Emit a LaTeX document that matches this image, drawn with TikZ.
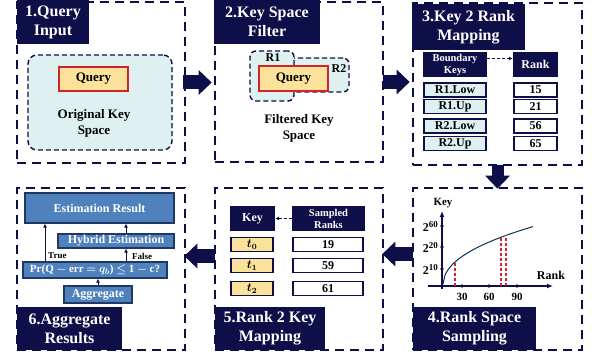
\documentclass[tikz,border=0pt]{standalone}
\usepackage{fontspec}
\setmainfont{Liberation Serif}
\usepackage{amsmath}
\usepackage{bm}
\usetikzlibrary{arrows.meta}

\definecolor{navy}{RGB}{14,14,72}
\definecolor{lcyan}{RGB}{222,240,240}
\definecolor{qyellow}{RGB}{251,226,155}
\definecolor{qred}{RGB}{210,35,40}
\definecolor{steel}{RGB}{79,129,189}
\definecolor{steeldark}{RGB}{31,56,100}

\newcommand{\powlbl}[1]{2\raisebox{4pt}{\fontsize{9}{9}\selectfont #1}}

\tikzset{
  panel/.style={draw=navy, line width=2.6pt, dash pattern=on 9pt off 6pt},
  titlebox/.style={fill=navy, text=white, align=center, inner sep=0pt,
    font=\bfseries\fontsize{16}{19}\selectfont},
  region/.style={draw=navy, fill=lcyan, line width=1.4pt, dash pattern=on 5pt off 3pt},
  qbox/.style={draw=qred, fill=qyellow, line width=1.3pt, inner sep=0pt,
    font=\bfseries\fontsize{13}{15}\selectfont},
  lbl/.style={align=center, inner sep=0pt, font=\bfseries\fontsize{13}{16}\selectfont},
  hdr/.style={fill=navy, text=white, align=center, inner sep=0pt,
    font=\bfseries\fontsize{12}{13}\selectfont},
  keycell/.style={draw=navy, fill=lcyan, line width=1.2pt, inner sep=0pt,
    font=\bfseries\fontsize{12}{13}\selectfont},
  rankcell/.style={draw=navy, fill=white, line width=1.2pt, inner sep=0pt,
    font=\bfseries\fontsize{12}{13}\selectfont},
  tcell/.style={draw=navy, fill=qyellow, line width=1.2pt, inner sep=0pt,
    font=\bfseries\fontsize{12}{13}\selectfont},
  bluebox/.style={draw=steeldark, fill=steel, text=white, line width=1.2pt, inner sep=0pt,
    font=\bfseries\fontsize{12}{13}\selectfont},
  smalllbl/.style={inner sep=0pt, font=\bfseries\fontsize{9}{10}\selectfont},
  ticklbl/.style={inner sep=0pt, font=\bfseries\fontsize{11}{12}\selectfont},
  dasharrow/.style={navy, line width=1pt, dash pattern=on 3pt off 2pt, -{Latex[length=4pt,width=4pt]}},
  smallarrow/.style={navy, line width=1pt, -{Latex[length=4pt,width=4pt]}},
  bigarrow/.style={navy, line width=14pt, -{Triangle[width=24pt,length=13pt]}},
  reddash/.style={qred, line width=1.2pt, dash pattern=on 3pt off 2pt},
}

\begin{document}
\begin{tikzpicture}[x=1pt,y=-1pt]
\useasboundingbox (0,0) rectangle (592,358);

% six stages
\node[panel, minimum width=168pt, minimum height=161pt] (p1) at (101,82.5) {};
\node[panel, minimum width=168pt, minimum height=160pt] (p2) at (299,82) {};
\node[panel, minimum width=169pt, minimum height=162pt] (p3) at (497.5,84) {};
\node[panel, minimum width=169pt, minimum height=162pt] (p4) at (497.5,269) {};
\node[panel, minimum width=168pt, minimum height=162pt] (p5) at (299,269) {};
\node[panel, minimum width=168pt, minimum height=162pt] (p6) at (101,269) {};

\node[titlebox, minimum width=72pt, minimum height=44pt] (t1) at (53,22) {1.Query\\Input};
\node[titlebox, minimum width=106pt, minimum height=44pt] (t2) at (267,22) {2.Key Space\\Filter};
\node[titlebox, minimum width=113pt, minimum height=46pt] (t3) at (468.5,27) {3.Key 2 Rank\\Mapping};
\node[titlebox, minimum width=123pt, minimum height=43pt] (t4) at (474.5,328.5) {4.Rank Space\\Sampling};
\node[titlebox, minimum width=110pt, minimum height=43pt] (t5) at (270,328.5) {5.Rank 2 Key\\Mapping};
\node[titlebox, minimum width=105pt, minimum height=43pt] (t6) at (69.5,328.5) {6.Aggregate\\Results};

% 1. query input
\node[region, minimum width=144pt, minimum height=95pt, rounded corners=9pt] (orig) at (100,102.5) {};
\node[qbox, minimum width=69pt, minimum height=24pt] (q1) at (93.5,79) {Query};
\node[lbl] (origlbl) at (94,123) {Original Key\\Space};

% 2. key space filter
\node[region, minimum width=75pt, minimum height=34pt, rounded corners=6pt] (r2) at (311.5,75) {};
\node[region, minimum width=44pt, minimum height=50pt, rounded corners=6pt] (r1) at (272,76) {};
\node[qbox, minimum width=69pt, minimum height=25pt] (q2) at (293.5,78.5) {Query};
\node[ticklbl, font=\bfseries\fontsize{12}{13}\selectfont] (r1lbl) at (273,58) {R1};
\node[ticklbl, font=\bfseries\fontsize{12}{13}\selectfont] (r2lbl) at (339,69) {R2};
\node[lbl] (filtlbl) at (299,128) {Filtered Key\\Space};

% 3. key 2 rank mapping
\node[hdr, minimum width=64pt, minimum height=25pt, font=\bfseries\fontsize{10.5}{12}\selectfont] (bk) at (455,64.5) {Boundary\\Keys};
\node[hdr, minimum width=45pt, minimum height=25pt] (rk) at (535.5,64.5) {Rank};
\draw[dasharrow] ([yshift=6pt]bk.east) -- ([yshift=6pt]rk.west);
\foreach \y/\k/\r/\n in {90/R1.Low/15/a, 106.5/R1.Up/21/b, 126/R2.Low/56/c, 143.5/R2.Up/65/d} {
  \node[keycell, minimum width=62pt, minimum height=14pt] (k\n) at (455,\y) {\k};
  \node[rankcell, minimum width=43pt, minimum height=14pt] (r\n) at (535.5,\y) {\r};
}

% 4. rank space sampling
\coordinate (xa) at (428,286);
\coordinate (xb) at (553,286);
\coordinate (ya) at (442,289);
\coordinate (yb) at (442,211);
\draw[navy, line width=1.4pt, -{Latex[length=6pt,width=5pt]}] (xa) -- (xb);
\draw[navy, line width=1.4pt, -{Latex[length=6pt,width=5pt]}] (ya) -- (yb);
\node[ticklbl] (keyax) at (443,203) {Key};
\node[ticklbl, font=\bfseries\fontsize{12}{13}\selectfont] (rankax) at (551,275) {Rank};
\foreach \x/\l in {462/30, 489/60, 517/90} {
  \fill[navy] (\x,286) circle (1.8pt);
  \node[ticklbl] (xt\l) at (\x,297) {\l};
}
\foreach \y/\l in {269/10, 247/20, 226/60} {
  \fill[navy] (442,\y) circle (1.8pt);
  \node[ticklbl, font=\bfseries\fontsize{12}{13}\selectfont, anchor=east] (yt\l) at (438,\y+1) {\powlbl{\l}};
}
\draw[navy!70!teal, line width=1pt] plot[domain=0.05:90, samples=50, smooth] ({443+\x}, {286-7.84*pow(\x,0.45)});
\draw[reddash] (455,286) -- (455,262);
\draw[reddash] (501,286) -- (501,237.5);
\draw[reddash] (506,286) -- (506,235.5);

% 5. rank 2 key mapping
\node[hdr, minimum width=45pt, minimum height=25pt] (kh) at (252.5,218.5) {Key};
\node[hdr, minimum width=73pt, minimum height=25pt, font=\bfseries\fontsize{10.5}{12}\selectfont] (sr) at (328.5,218.5) {Sampled\\Ranks};
\draw[dasharrow] (sr.west) -- (kh.east);
\foreach \y/\i/\r in {244.5/0/19, 265.5/1/59, 288.5/2/61} {
  \node[tcell, minimum width=42pt, minimum height=13.5pt] (tk\i) at (252,\y) {$\bm{t_\i}$};
  \node[rankcell, minimum width=70pt, minimum height=13.5pt] (sv\i) at (328,\y) {\r};
}

% 6. aggregate results
\node[bluebox, minimum width=149pt, minimum height=30pt] (est) at (99.5,208) {Estimation Result};
\node[bluebox, minimum width=116pt, minimum height=14pt] (hyb) at (116,241) {Hybrid Estimation};
\node[bluebox, minimum width=144pt, minimum height=16pt, font=\bfseries\fontsize{11}{12}\selectfont] (pr) at (95,270)
  {Pr(Q $\bm{-}$ err $\bm{=}$ $\bm{q_b}$) $\bm{\le}$ 1 $\bm{-}$ c?};
\node[bluebox, minimum width=68pt, minimum height=17pt] (agg) at (98,294.5) {Aggregate};
\coordinate (tru) at (45,262);
\coordinate (fls) at (126,262);
\draw[smallarrow] (tru) -- (tru |- est.south);
\draw[smallarrow] (fls) -- (fls |- hyb.south);
\draw[smallarrow] (fls |- hyb.north) -- (fls |- est.south);
\draw[smallarrow] (agg.north) -- (agg.north |- pr.south);
\node[smalllbl, anchor=west] (trulbl) at (48,256) {True};
\node[smalllbl, anchor=west] (flslbl) at (132,256) {False};

% flow between stages
\draw[bigarrow, shorten <=-3pt, shorten >=2pt] (p1.east) -- (p1.east -| p2.west);
\draw[bigarrow, shorten <=-1pt, shorten >=2pt] (p2.east) -- (p2.east -| p3.west);
\draw[bigarrow, line width=12pt, shorten <=-1pt, shorten >=-2pt] (p3.south) -- (p4.north);
\draw[bigarrow, shorten <=-1pt, shorten >=-2pt] ([yshift=15pt]p4.west) -- ([yshift=15pt]p5.east);
\draw[bigarrow, shorten <=-1pt, shorten >=-2pt] ([yshift=13pt]p5.west) -- ([yshift=13pt]p6.east);

\end{tikzpicture}
\end{document}
